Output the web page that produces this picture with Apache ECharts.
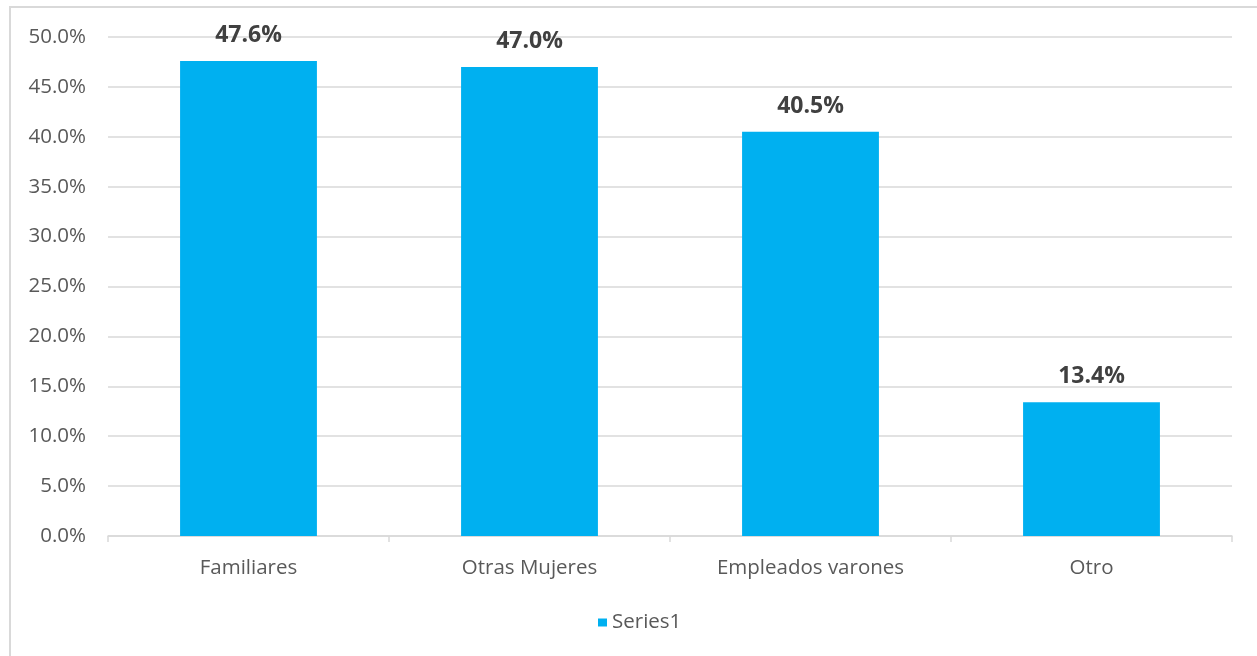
<!DOCTYPE html>
<html>
<head>
<meta charset="utf-8">
<script src="https://cdn.jsdelivr.net/npm/echarts@6/dist/echarts.min.js"></script>
<style>
html,body{margin:0;padding:0;background:#fff;}
#chart{width:1257px;height:656px;}
</style>
</head>
<body>
<div id="chart"></div>
<script>
const categories = ['Familiares', 'Otras Mujeres', 'Empleados varones', 'Otro'];
const values = [47.6, 47.0, 40.5, 13.4];
const seriesName = 'Series1';
const yMin = 0, yMax = 50, yInterval = 5;

const FONT = '"Open Sans", "Noto Sans", sans-serif';
const chart = echarts.init(document.getElementById('chart'), null, {renderer: 'canvas'});
chart.setOption({
  backgroundColor: '#ffffff',
  animation: false,
  graphic: [{
    type: 'rect', shape: {x: 10, y: 7, width: 1300, height: 700},
    style: {fill: 'none', stroke: '#d9d9d9', lineWidth: 2}, silent: true, z: -1
  }],
  grid: {left: 108, right: 25, top: 37, bottom: 120, containLabel: false},
  legend: {
    data: [seriesName], top: 607, left: 593,
    icon: 'rect', itemWidth: 9, itemHeight: 8, itemGap: 10,
    textStyle: {color: '#595959', fontSize: 20.5, fontFamily: FONT, padding: [0, 0, 0, 0]}
  },
  xAxis: {
    type: 'category', data: categories,
    axisLine: {lineStyle: {color: '#d9d9d9', width: 1.5}},
    axisTick: {show: true, length: 6, lineStyle: {color: '#d9d9d9', width: 1.5}},
    axisLabel: {color: '#595959', fontSize: 20.5, fontFamily: FONT, margin: 22}
  },
  yAxis: {
    type: 'value', min: yMin, max: yMax, interval: yInterval,
    axisLine: {show: false}, axisTick: {show: false},
    splitLine: {lineStyle: {color: '#d9d9d9', width: 1.5}},
    axisLabel: {color: '#595959', fontSize: 20.5, fontFamily: FONT, margin: 22,
      formatter: v => v.toFixed(1) + '%'}
  },
  series: [{
    name: seriesName, type: 'bar', data: values, barWidth: '48.7%',
    itemStyle: {color: '#00b0f0'},
    label: {show: true, position: 'top', distance: 14,
      color: '#404040', fontSize: 23, fontWeight: 'bold', fontFamily: FONT,
      formatter: p => p.value.toFixed(1) + '%'}
  }]
});
</script>
</body>
</html>
